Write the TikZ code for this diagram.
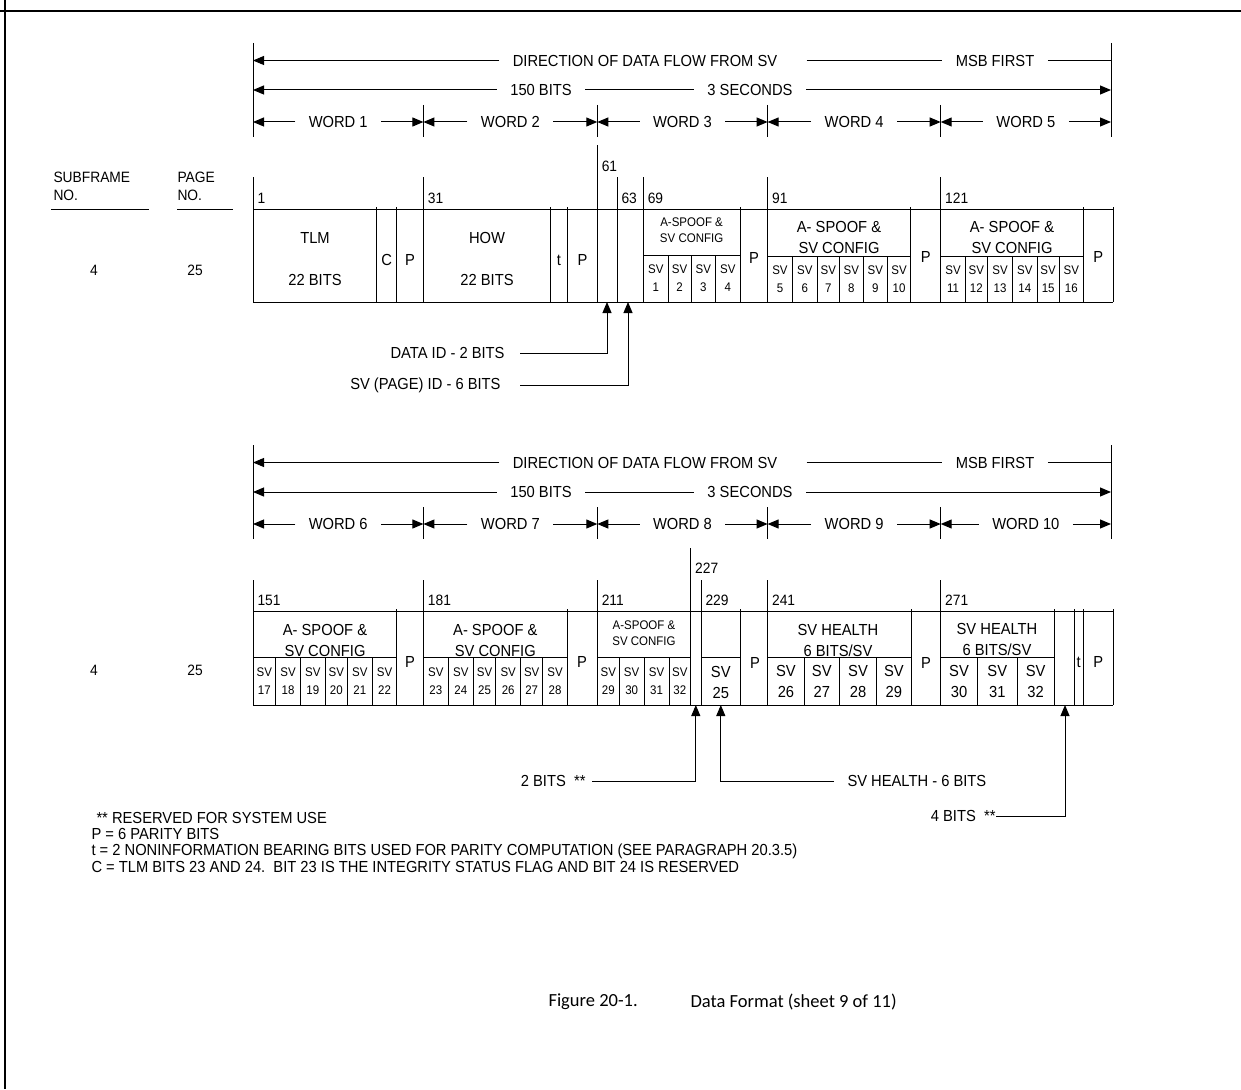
\documentclass[tikz,border=0pt]{standalone}
\usepackage{fontspec}
\setmainfont[FakeStretch=0.92]{Liberation Sans}
\newfontfamily\capfont{Carlito}
\usetikzlibrary{arrows.meta, positioning}

% arrow rows above one frame of five words
\newcommand{\flowhead}[2]{%
  % end lines
  \coordinate (#1l) at (253,43);
  \coordinate (#1r) at (1111,43);
  \draw (#1l) -- ++(0,94);
  \draw (#1r) -- ++(0,94);
  % direction of data flow
  \node[gap] (#1dir) at (645,60.5) {DIRECTION OF DATA FLOW FROM SV};
  \node[gap] (#1msb) at (995,60.5) {MSB FIRST};
  \draw[arrow] (#1dir.west) -- (#1l |- #1dir.west);
  \draw ([xshift=16pt]#1dir.east) -- (#1msb.west);
  \draw (#1msb.east) -- (#1r |- #1msb.east);
  % length of frame
  \node[gap] (#1bits) at (541,90) {150 BITS};
  \node[gap] (#1sec) at (750,90) {3 SECONDS};
  \draw[arrow] (#1bits.west) -- (#1l |- #1bits.west);
  \draw (#1bits.east) -- (#1sec.west);
  \draw[arrow] (#1sec.east) -- (#1r |- #1sec.east);
  % words
  \foreach \xa/\xb [count=\i from 0] in {253/423.4, 423.4/597.3, 597.3/767.6, 767.6/940.7, 940.7/1111} {
    \pgfmathtruncatemacro{\wn}{#2+\i}
    \coordinate (#1wl\i) at (\xa,122);
    \coordinate (#1wr\i) at (\xb,122);
    \node[gap] (#1w\i) at ({(\xa+\xb)/2},122) {WORD \wn};
    \draw[arrow] (#1w\i) -- (#1wl\i);
    \draw[arrow] (#1w\i) -- (#1wr\i);
  }
  \foreach \x in {423.4, 597.3, 767.6, 940.7} \draw (\x,105) -- (\x,137);
}

% one SV per cell, label centred under the divider
\newcommand{\svcells}[5]{%
  \foreach \xa/\xb/\n in {#5} {
    \draw (\xa,#3) -- (\xa,#4);
    \node[#2] (#1\n) at ({(\xa+\xb)/2},{(#3+#4)/2}) {SV\\\n};
  }
}

\begin{document}
\begin{tikzpicture}[
    x=1pt, y=-1pt,
    line width=1pt,
    % text
    lbl/.style={inner sep=0pt, align=center, font=\fontsize{16}{21}\selectfont},
    gap/.style={lbl, inner xsep=13pt},
    small/.style={inner sep=0pt, align=center, font=\fontsize{12.5}{16}\selectfont},
    svs/.style={inner sep=0pt, align=center, font=\fontsize{12.5}{18}\selectfont},
    bitno/.style={inner sep=0pt, anchor=west, font=\fontsize{15}{18}\selectfont},
    side/.style={inner sep=0pt, font=\fontsize{15}{18}\selectfont},
    note/.style={lbl, anchor=west},
    figcap/.style={inner sep=0pt, anchor=west, font=\capfont\fontsize{18.5}{22}\selectfont},
    arrow/.style={-{Triangle[length=11pt,width=9pt]}}
]
\useasboundingbox (0,0) rectangle (1241,1089);

% frame
\draw[line width=2pt] (0,11) -- (1241,11);
\draw[line width=2pt] (5,0) -- (5,1089);

% ---- words 1 to 5 ----
\flowhead{a}{1}

% subframe and page
\node[side, anchor=west] (sfa) at (53,177) {SUBFRAME};
\node[side, anchor=west] (sfnoa) at (53,195) {NO.};
\node[side, anchor=west] (pga) at (177,177) {PAGE};
\node[side, anchor=west] (pgnoa) at (177,195) {NO.};
\draw (51,209) -- (149,209);
\draw (177,209) -- (233,209);
\node[side] (sfva) at (94,270) {4};
\node[side] (pgva) at (195,270) {25};

% bit numbers
\foreach \x/\lab/\y in {253/1/177, 423.4/31/177, 597.3/61/145, 617/63/177, 643.3/69/177, 767.6/91/177, 940.7/121/177} {
  \draw (\x,\y) -- (\x,302);
  \node[bitno] (bit\lab) at ({\x+4},{\y+21}) {\lab};
}

% outline and fields
\draw (253,209) -- (1113.3,209) (253,302) -- (1113.3,302) (1113.3,207) -- (1113.3,302);
\foreach \x in {376.7, 396.7, 550, 567.7, 740, 910.7, 1083.3} \draw (\x,207) -- (\x,302);

% TLM and HOW
\node[lbl] (tlm) at (315,238) {TLM};
\node[lbl] (tlmb) at (315,280) {22 BITS};
\node[lbl] (cbit) at (386.7,260) {C};
\node[lbl] (pa1) at (410,260) {P};
\node[lbl] (how) at (487,238) {HOW};
\node[lbl] (howb) at (487,280) {22 BITS};
\node[lbl] (ta) at (559,260) {t};
\node[lbl] (pa2) at (582.5,260) {P};

% SV 1-16
\node[small] (cfga3) at (691.6,230) {A-SPOOF \&\\SV CONFIG};
\draw (643.3,255) -- (740,255);
\svcells{cfg}{svs}{255}{302}{643.3/668.3/1, 668.3/691/2, 691/715.7/3, 715.7/740/4}
\node[lbl] (pa3) at (754,258) {P};
\node[lbl] (cfga4) at (839,237.5) {A- SPOOF \&\\SV CONFIG};
\draw (767.6,256) -- (910.7,256);
\svcells{cfg}{svs}{256}{302}{767.6/792.3/5, 792.3/817.3/6, 817.3/839.3/7, 839.3/863.3/8, 863.3/887.3/9, 887.3/910.7/10}
\node[lbl] (pa4) at (925.7,257) {P};
\node[lbl] (cfga5) at (1012,237.5) {A- SPOOF \&\\SV CONFIG};
\draw (940.7,256) -- (1083.3,256);
\svcells{cfg}{svs}{256}{302}{940.7/965.3/11, 965.3/987.3/12, 987.3/1012.7/13, 1012.7/1037/14, 1037/1059.3/15, 1059.3/1083.3/16}
\node[lbl] (pa5) at (1098.3,257) {P};

% data id and page id
\node[lbl, anchor=east] (dataid) at (505,353) {DATA ID - 2 BITS};
\node[lbl, anchor=east] (pageid) at (501,385) {SV (PAGE) ID - 6 BITS};
\coordinate (dataidup) at (607,302);
\coordinate (pageidup) at (628,302);
\draw[arrow] ([xshift=15pt]dataid.east) -| (dataidup);
\draw[arrow] ([xshift=19pt]pageid.east) -| (pageidup);

% ---- words 6 to 10 ----
\begin{scope}[shift={(0,402)}]
  \flowhead{b}{6}
\end{scope}

\node[side] (sfvb) at (94,670) {4};
\node[side] (pgvb) at (195,670) {25};

% bit numbers
\foreach \x/\lab/\y in {253/151/580, 423.4/181/580, 597.3/211/580, 690.7/227/548, 701/229/580, 767.6/241/580, 940.7/271/580} {
  \draw (\x,\y) -- (\x,705);
  \node[bitno] (bit\lab) at ({\x+4},{\y+20}) {\lab};
}

% outline and fields
\draw (253,611) -- (1113.3,611) (253,705) -- (1113.3,705) (1113.3,609) -- (1113.3,705);
\foreach \x in {396.7, 567.3, 740.7, 911, 1054, 1074, 1083.3} \draw (\x,609) -- (\x,705);

% SV 17-32
\node[lbl] (cfgb6) at (325,640) {A- SPOOF \&\\SV CONFIG};
\draw (253,657) -- (396.7,657);
\svcells{cfg}{svs}{657}{705}{253/275.7/17, 275.7/300.3/18, 300.3/325.3/19, 325.3/347.3/20, 347.3/372.3/21, 372.3/396.7/22}
\node[lbl] (pb1) at (410,662) {P};
\node[lbl] (cfgb7) at (495.3,640) {A- SPOOF \&\\SV CONFIG};
\draw (423.4,657) -- (567.3,657);
\svcells{cfg}{svs}{657}{705}{423.4/448.3/23, 448.3/473.3/24, 473.3/495.7/25, 495.7/520.7/26, 520.7/542.7/27, 542.7/567.3/28}
\node[lbl] (pb2) at (582,662) {P};
\node[small] (cfgb8) at (644,633.5) {A-SPOOF \&\\SV CONFIG};
\draw (597.3,657) -- (690.7,657);
\svcells{cfg}{svs}{657}{705}{597.3/619.3/29, 619.3/644/30, 644/669/31, 669/690.7/32}

% SV health
\draw (701,657) -- (740.7,657);
\node[lbl] (hl25) at (720.8,682.5) {SV\\25};
\node[lbl] (pb3) at (755,663) {P};
\node[lbl] (hlb9) at (838,640.5) {SV HEALTH\\6 BITS/SV};
\draw (767.6,657) -- (911,657);
\svcells{hl}{lbl}{657}{705}{767.6/804.3/26, 804.3/839.3/27, 839.3/876.7/28, 876.7/911/29}
\node[lbl] (pb4) at (926,663) {P};
\node[lbl] (hlb10) at (997,639.5) {SV HEALTH\\6 BITS/SV};
\draw (940.7,657) -- (1054,657);
\svcells{hl}{lbl}{657}{705}{940.7/977.3/30, 977.3/1017.3/31, 1017.3/1054/32}
\node[lbl] (tb) at (1078.7,662) {t};
\node[lbl] (pb5) at (1098.3,662) {P};

% reserved bits and SV health
\node[lbl, anchor=east] (res2) at (586,781) {2 BITS\ \ **};
\node[lbl, anchor=west] (hlbits) at (847,781) {SV HEALTH - 6 BITS};
\node[lbl, anchor=east] (res4) at (996,816) {4 BITS\ \ **};
\coordinate (res2up) at (695.8,705);
\coordinate (hlup) at (720.8,705);
\coordinate (res4up) at (1065,705);
\draw[arrow] ([xshift=6pt]res2.east) -| (res2up);
\draw[arrow] ([xshift=-13pt]hlbits.west) -| (hlup);
\draw[arrow] (res4.east) -| (res4up);

% notes
\node[note] (note1) at (96,818) {** RESERVED FOR SYSTEM USE};
\node[note] (note2) at (91,834) {P = 6 PARITY BITS};
\node[note] (note3) at (91,851) {t = 2 NONINFORMATION BEARING BITS USED FOR PARITY COMPUTATION (SEE PARAGRAPH 20.3.5)};
\node[note] (note4) at (91,867) {C = TLM BITS 23 AND 24.\ \ BIT 23 IS THE INTEGRITY STATUS FLAG AND BIT 24 IS RESERVED};

% caption
\node[figcap] (fig) at (548,1002) {Figure 20-1.};
\node[figcap] (figt) at (690,1002) {Data Format (sheet 9 of 11)};

\end{tikzpicture}
\end{document}
